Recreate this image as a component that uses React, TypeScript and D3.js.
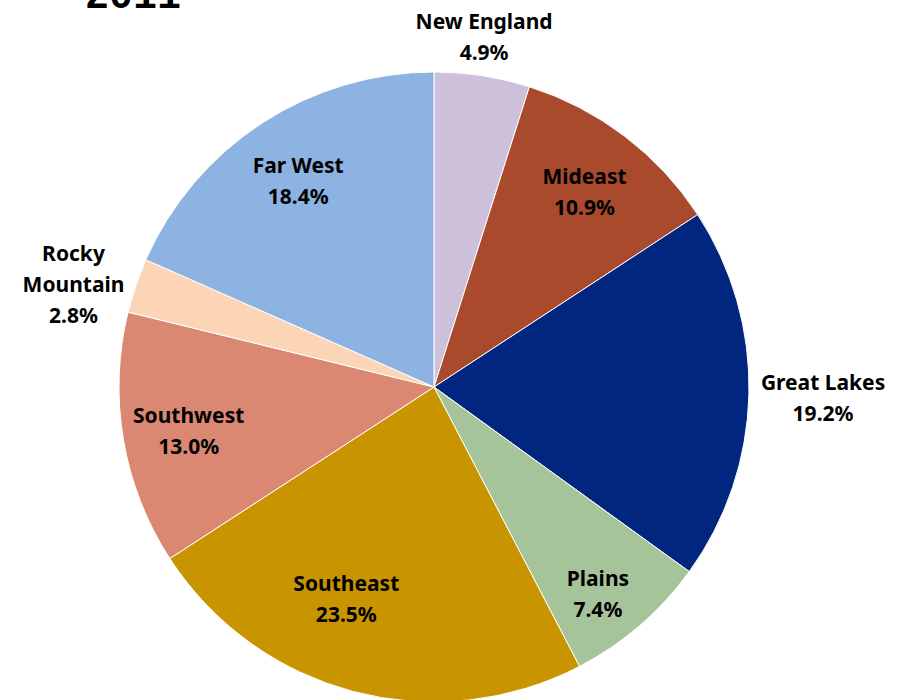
import React, { useEffect, useRef } from 'react';
import * as d3 from 'd3';

// regional shares, 2011 (clockwise from 12 o'clock)
const regions = ['New England', 'Mideast', 'Great Lakes', 'Plains', 'Southeast', 'Southwest', 'Rocky Mountain', 'Far West'];
const shares = [4.9, 10.9, 19.2, 7.4, 23.5, 13.0, 2.8, 18.4];
const colors = ['#CCC0DA', '#AA4A2D', '#00267F', '#A6C49A', '#C89400', '#DA8872', '#FBD5B5', '#8DB3E2'];
// label lines (Excel wraps "Rocky Mountain")
const labelLines = [['New England'], ['Mideast'], ['Great Lakes'], ['Plains'], ['Southeast'], ['Southwest'], ['Rocky', 'Mountain'], ['Far West']];
const outside = ['New England', 'Great Lakes', 'Rocky Mountain'];

// best-fit label placement tweaks (degrees / fraction of radius)
const labelTweak: Record<string, { da: number; rf: number }> = {
    Southeast: { da: 8, rf: 0.72 },
    Plains: { da: 2, rf: 0.83 },
};

export default function App() {
    const svgRef = useRef<SVGSVGElement>(null);

    useEffect(() => {
        if (!svgRef.current) return;
        const svg = d3.select(svgRef.current);
        svg.selectAll('*').remove();

        const cx = 434;
        const cy = 387;
        const r = 315;
        const lineH = 31;

        const data = regions.map((name, i) => ({ name, value: shares[i], color: colors[i], lines: labelLines[i] }));

        const pie = d3.pie<any>().value(d => d.value).sort(null);
        const arcs = pie(data);
        const arc = d3.arc<any>().innerRadius(0).outerRadius(r);

        const g = svg.append('g').attr('transform', `translate(${cx},${cy})`);

        g.selectAll('path')
            .data(arcs)
            .join('path')
            .attr('d', arc)
            .attr('fill', d => d.data.color)
            .attr('stroke', '#fff')
            .attr('stroke-width', 1);

        // labels
        arcs.forEach(a => {
            const tw = labelTweak[a.data.name];
            const mid = (a.startAngle + a.endAngle) / 2 + (tw ? tw.da * Math.PI / 180 : 0);
            const isOut = outside.includes(a.data.name);
            const lr = isOut ? r + 12 : r * (tw ? tw.rf : 0.79);
            const px = Math.sin(mid) * lr;
            const py = -Math.cos(mid) * lr;
            const lines = [...a.data.lines, a.value.toFixed(1) + '%'];

            const lg = g.append('g');
            const txt = lg.append('text')
                .attr('text-anchor', 'middle')
                .attr('font-family', '"Noto Sans", sans-serif')
                .attr('font-weight', 'bold')
                .attr('font-size', 21)
                .attr('fill', '#000');
            lines.forEach((l, i) => {
                txt.append('tspan')
                    .attr('x', 0)
                    .attr('y', (i - (lines.length - 1) / 2) * lineH)
                    .attr('dy', '0.35em')
                    .text(l);
            });

            let tx = px;
            let ty = py;
            if (isOut) {
                const bb = (txt.node() as SVGTextElement).getBBox();
                const s = Math.sin(mid);
                const c = -Math.cos(mid);
                // push the block away from the rim along its dominant side
                if (Math.abs(s) > Math.abs(c)) tx = px + Math.sign(s) * bb.width / 2;
                else ty = py + Math.sign(c) * (bb.height / 2);
            }
            lg.attr('transform', `translate(${tx},${ty + 3})`);
        });

        // title, cut off at the top edge
        svg.append('text')
            .attr('x', 85)
            .attr('y', 8)
            .attr('font-family', '"Liberation Mono", monospace')
            .attr('font-weight', 'bold')
            .attr('font-size', 40)
            .attr('fill', '#000')
            .text('2011');
    }, []);

    return (
        <svg
            ref={svgRef}
            width={902}
            height={700}
            style={{ position: 'absolute', left: 0, top: 0, background: '#fff' }}
        />
    );
}
